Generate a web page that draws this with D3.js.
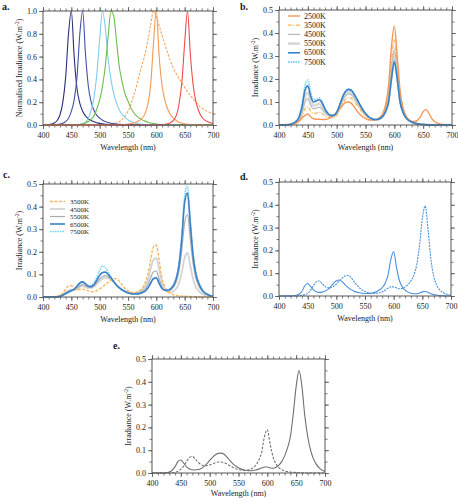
<!DOCTYPE html>
<html><head><meta charset="utf-8">
<script src="https://cdn.jsdelivr.net/npm/d3@7"></script>
<style>
body{margin:0;background:#fff;}
svg text{font-family:"Liberation Serif","Times New Roman",serif;fill:#1a1a1a;}
</style>
</head><body>
<svg id="fig" width="458" height="500"></svg>
<script>
// ---------- data ----------
const wavelengths = [400,405,410,415,420,425,430,435,440,445,
 450,455,460,465,470,475,480,485,490,495,
 500,505,510,515,520,525,530,535,540,545,
 550,555,560,565,570,575,580,585,590,595,
 600,605,610,615,620,625,630,635,640,645,
 650,655,660,665,670,675,680,685,690,695,
 700];

// panel a: normalised single-LED spectra
const aRoyalBlue = [0,0,0.003,0.008,0.018,0.04,0.09,0.2,0.42,0.8,
 1.0,0.6,0.32,0.19,0.12,0.08,0.055,0.04,0.028,0.02,
 0.014,0.01,0.007,0.005,0.003,0.002,0.001,0.001,0,0,
 0,0,0,0,0,0,0,0,0,0, 0,0,0,0,0,0,0,0,0,0, 0,0,0,0,0,0,0,0,0,0, 0];
const aBlue = [0,0,0,0,0.002,0.004,0.008,0.015,0.03,0.06,
 0.12,0.22,0.42,0.8,1.0,0.62,0.34,0.2,0.13,0.085,
 0.06,0.042,0.03,0.022,0.016,0.012,0.008,0.006,0.004,0.003,
 0.002,0.001,0.001,0,0,0,0,0,0,0, 0,0,0,0,0,0,0,0,0,0, 0,0,0,0,0,0,0,0,0,0, 0];
const aCyan = [0,0,0,0,0,0,0,0,0,0,
 0,0,0.002,0.005,0.01,0.025,0.06,0.13,0.24,0.45,
 0.75,1.0,0.85,0.58,0.4,0.27,0.19,0.13,0.09,0.065,
 0.045,0.032,0.022,0.015,0.01,0.007,0.005,0.003,0.002,0.001,
 0.001,0,0,0,0,0,0,0,0,0, 0,0,0,0,0,0,0,0,0,0, 0];
const aGreen = [0,0,0,0,0,0,0,0,0,0,
 0,0,0.002,0.005,0.01,0.018,0.03,0.05,0.08,0.14,
 0.22,0.34,0.52,0.78,1.0,0.95,0.72,0.5,0.37,0.27,
 0.21,0.15,0.11,0.08,0.06,0.045,0.034,0.025,0.018,0.013,
 0.009,0.006,0.004,0.003,0.002,0.001,0,0,0,0, 0,0,0,0,0,0,0,0,0,0, 0];
const aAmberPC = [0,0,0,0,0,0,0,0,0,0, 0,0,0,0,0,0,0,0,0,0,
 0,0,0.002,0.004,0.006,0.01,0.02,0.03,0.05,0.08,
 0.12,0.18,0.26,0.34,0.44,0.53,0.62,0.74,0.88,1.0,
 0.95,0.87,0.79,0.71,0.63,0.56,0.5,0.45,0.41,0.37,
 0.33,0.29,0.26,0.23,0.2,0.17,0.15,0.13,0.12,0.11,
 0.1];
const aAmber = [0,0,0,0,0,0,0,0,0,0, 0,0,0,0,0,0,0,0,0,0,
 0,0,0,0,0,0,0,0,0.003,0.005,
 0.008,0.012,0.018,0.027,0.04,0.06,0.1,0.18,0.35,0.72,
 1.0,0.6,0.35,0.22,0.14,0.09,0.06,0.04,0.025,0.016,
 0.01,0.006,0.004,0.003,0.002,0.001,0.001,0,0,0,
 0];
const aRed = [0,0,0,0,0,0,0,0,0,0, 0,0,0,0,0,0,0,0,0,0,
 0,0,0,0,0,0,0,0,0,0, 0,0,0,0,0,0,0,0,0,0,
 0.001,0.002,0.003,0.005,0.01,0.02,0.04,0.08,0.18,0.37,
 0.72,1.0,0.62,0.35,0.2,0.12,0.07,0.045,0.03,0.02,
 0.013];

// panel b
const b2500 = [0,0,0,0,0.002,0.005,0.01,0.018,0.03,0.042,
 0.048,0.036,0.027,0.025,0.025,0.024,0.024,0.027,0.033,0.042,
 0.055,0.07,0.085,0.097,0.1,0.095,0.08,0.062,0.047,0.036,
 0.028,0.023,0.021,0.022,0.026,0.034,0.05,0.09,0.17,0.34,
 0.43,0.3,0.15,0.075,0.04,0.022,0.016,0.015,0.02,0.035,
 0.058,0.068,0.05,0.028,0.015,0.008,0.004,0.002,0.001,0,
 0];
const b3500 = [0,0,0,0,0.002,0.004,0.008,0.017,0.038,0.07,
 0.08,0.06,0.05,0.052,0.055,0.049,0.039,0.033,0.031,0.033,
 0.042,0.063,0.09,0.11,0.12,0.117,0.103,0.086,0.069,0.052,
 0.039,0.03,0.024,0.021,0.023,0.028,0.042,0.075,0.14,0.28,
 0.37,0.26,0.13,0.07,0.04,0.025,0.016,0.01,0.007,0.004,
 0.003,0.002,0.001,0,0,0,0,0,0,0,
 0];
const b4500 = [0,0,0,0.001,0.002,0.006,0.011,0.024,0.054,0.1,
 0.115,0.085,0.07,0.074,0.078,0.068,0.052,0.041,0.036,0.037,
 0.048,0.074,0.104,0.126,0.135,0.132,0.117,0.098,0.079,0.06,
 0.044,0.033,0.026,0.022,0.023,0.027,0.039,0.065,0.12,0.24,
 0.33,0.235,0.118,0.064,0.037,0.023,0.015,0.01,0.006,0.004,
 0.002,0.001,0,0,0,0,0,0,0,0,
 0];
const b5500 = [0,0,0,0.001,0.003,0.007,0.013,0.029,0.066,0.123,
 0.14,0.103,0.084,0.088,0.093,0.081,0.06,0.045,0.039,0.04,
 0.052,0.08,0.112,0.136,0.145,0.142,0.126,0.106,0.085,0.064,
 0.047,0.035,0.027,0.023,0.023,0.027,0.038,0.062,0.11,0.22,
 0.31,0.22,0.11,0.06,0.035,0.022,0.014,0.009,0.006,0.003,
 0.002,0.001,0,0,0,0,0,0,0,0,
 0];
const b6500 = [0,0,0,0.001,0.003,0.008,0.016,0.035,0.08,0.15,
 0.17,0.125,0.1,0.105,0.11,0.095,0.068,0.05,0.042,0.042,
 0.055,0.085,0.12,0.145,0.155,0.152,0.135,0.113,0.09,0.068,
 0.05,0.037,0.028,0.024,0.024,0.028,0.038,0.06,0.1,0.2,
 0.275,0.2,0.1,0.055,0.032,0.02,0.013,0.008,0.005,0.003,
 0.002,0.001,0,0,0,0,0,0,0,0,
 0];
const b7500 = [0,0,0,0.001,0.003,0.009,0.018,0.04,0.09,0.17,
 0.195,0.14,0.11,0.112,0.117,0.1,0.07,0.05,0.042,0.042,
 0.055,0.085,0.12,0.145,0.155,0.152,0.135,0.113,0.09,0.068,
 0.05,0.037,0.028,0.024,0.024,0.028,0.038,0.06,0.1,0.2,
 0.28,0.2,0.1,0.055,0.032,0.02,0.013,0.008,0.005,0.003,
 0.002,0.001,0,0,0,0,0,0,0,0,
 0];

// panel c
const c3500 = [0,0,0,0,0.001,0.003,0.008,0.018,0.035,0.048,
 0.05,0.038,0.032,0.034,0.035,0.032,0.027,0.024,0.024,0.028,
 0.035,0.045,0.055,0.065,0.075,0.082,0.08,0.068,0.052,0.038,
 0.028,0.022,0.019,0.021,0.027,0.038,0.06,0.1,0.165,0.222,
 0.23,0.16,0.085,0.045,0.025,0.015,0.01,0.007,0.005,0.004,
 0.003,0.003,0.002,0.001,0.001,0,0,0,0,0,
 0];
const c4500 = [0,0,0,0,0.001,0.002,0.005,0.012,0.02,0.028,
 0.033,0.031,0.035,0.044,0.048,0.044,0.04,0.04,0.046,0.058,
 0.07,0.08,0.085,0.083,0.076,0.065,0.052,0.04,0.031,0.025,
 0.02,0.018,0.017,0.019,0.024,0.032,0.048,0.075,0.125,0.165,
 0.172,0.12,0.065,0.035,0.022,0.02,0.025,0.036,0.062,0.11,
 0.175,0.195,0.137,0.078,0.043,0.026,0.015,0.009,0.005,0.003,
 0.001];
const c5500 = [0,0,0,0,0.001,0.002,0.004,0.01,0.018,0.025,
 0.03,0.032,0.04,0.05,0.055,0.05,0.044,0.043,0.05,0.065,
 0.08,0.09,0.095,0.09,0.08,0.066,0.052,0.04,0.031,0.024,
 0.019,0.016,0.015,0.016,0.019,0.025,0.035,0.055,0.085,0.112,
 0.115,0.08,0.045,0.03,0.026,0.03,0.042,0.066,0.115,0.21,
 0.33,0.365,0.255,0.145,0.08,0.048,0.028,0.016,0.009,0.005,
 0.002];
const c6500 = [0,0,0,0,0,0,0.003,0.008,0.015,0.022,
 0.028,0.035,0.048,0.062,0.067,0.058,0.048,0.046,0.055,0.075,
 0.095,0.108,0.11,0.1,0.085,0.068,0.052,0.04,0.031,0.024,
 0.018,0.015,0.013,0.013,0.015,0.019,0.026,0.04,0.062,0.082,
 0.085,0.06,0.038,0.03,0.03,0.036,0.05,0.08,0.14,0.26,
 0.42,0.46,0.32,0.18,0.1,0.06,0.035,0.02,0.012,0.006,
 0.003];
const c7500 = [0,0,0,0,0,0,0.003,0.007,0.013,0.02,
 0.026,0.034,0.047,0.06,0.065,0.058,0.05,0.05,0.062,0.088,
 0.118,0.137,0.13,0.11,0.088,0.068,0.052,0.04,0.031,0.024,
 0.018,0.015,0.013,0.013,0.015,0.019,0.026,0.04,0.06,0.08,
 0.083,0.06,0.038,0.031,0.032,0.038,0.053,0.085,0.15,0.28,
 0.45,0.49,0.34,0.19,0.105,0.063,0.037,0.021,0.012,0.006,
 0.003];

// panel d
const dSolid = [0,0,0,0,0,0.001,0.003,0.008,0.02,0.045,
 0.055,0.042,0.027,0.019,0.016,0.017,0.021,0.028,0.04,0.055,
 0.067,0.07,0.063,0.05,0.038,0.029,0.022,0.017,0.014,0.012,
 0.011,0.011,0.012,0.015,0.019,0.026,0.037,0.055,0.09,0.16,
 0.195,0.125,0.068,0.04,0.026,0.017,0.012,0.01,0.01,0.013,
 0.018,0.02,0.016,0.01,0.006,0.004,0.002,0.001,0,0,
 0];
const dDashed = [0,0,0,0,0,0,0,0.001,0.003,0.006,
 0.012,0.025,0.045,0.062,0.066,0.055,0.042,0.036,0.036,0.042,
 0.052,0.065,0.078,0.088,0.09,0.083,0.066,0.05,0.037,0.027,
 0.02,0.015,0.012,0.011,0.012,0.014,0.018,0.025,0.034,0.04,
 0.04,0.035,0.032,0.034,0.04,0.05,0.066,0.09,0.135,0.22,
 0.34,0.395,0.29,0.16,0.085,0.048,0.028,0.017,0.01,0.006,
 0.003];

// panel e
const eSolid = [0,0,0,0,0,0.001,0.004,0.012,0.028,0.05,
 0.057,0.043,0.027,0.018,0.014,0.013,0.015,0.02,0.028,0.04,
 0.055,0.069,0.08,0.086,0.087,0.082,0.07,0.055,0.041,0.031,
 0.023,0.017,0.013,0.011,0.01,0.011,0.013,0.017,0.022,0.026,
 0.026,0.022,0.021,0.025,0.035,0.05,0.075,0.11,0.16,0.26,
 0.38,0.449,0.38,0.25,0.16,0.1,0.062,0.038,0.022,0.012,
 0.007];
const eDashed = [0,0,0,0,0,0,0,0.001,0.003,0.008,
 0.016,0.03,0.05,0.068,0.073,0.062,0.047,0.037,0.032,0.032,
 0.035,0.04,0.045,0.048,0.048,0.045,0.04,0.032,0.025,0.019,
 0.015,0.012,0.011,0.012,0.016,0.022,0.034,0.055,0.09,0.16,
 0.19,0.125,0.07,0.04,0.024,0.015,0.009,0.006,0.004,0.003,
 0.002,0.002,0.001,0,0,0,0,0,0,0,
 0];

const xTickValues = [400,450,500,550,600,650,700];
const yTicksNorm = [0,0.2,0.4,0.6,0.8,1.0];
const yTicksIrr = [0,0.1,0.2,0.3,0.4,0.5];
const legendB = ["2500K","3500K","4500K","5500K","6500K","7500K"];
const legendC = ["3500K","4500K","5500K","6500K","7500K"];
const panelLetters = ["a.","b.","c.","d.","e."];

// ---------- drawing ----------
const svg = d3.select("#fig");
const FONT = "'Liberation Serif','Times New Roman',serif";

function panel(cfg) {
  const x = d3.scaleLinear().domain([400,700]).range([cfg.l, cfg.r]);
  const y = d3.scaleLinear().domain([0, cfg.yMax]).range([cfg.b, cfg.t]);
  const g = svg.append("g");
  const step = cfg.yTicks[1]-cfg.yTicks[0];
  const yMinor = d3.range(0, cfg.yMax + 1e-9, step/2);
  const xMinor = d3.range(400, 701, 10);

  function styleAxis(sel) {
    sel.select(".domain").remove();
    sel.selectAll("line").attr("stroke","#555").attr("stroke-width",0.8);
    sel.attr("font-family", FONT).attr("font-size", 8);
    sel.selectAll("text").attr("fill","#1a1a1a");
  }
  // bottom
  g.append("g").attr("transform",`translate(0,${cfg.b})`)
    .call(d3.axisBottom(x).tickValues(xMinor).tickSize(2.5).tickFormat("")).call(styleAxis);
  g.append("g").attr("transform",`translate(0,${cfg.b})`)
    .call(d3.axisBottom(x).tickValues(xTickValues).tickSize(4).tickPadding(3).tickFormat(d3.format("d"))).call(styleAxis);
  // top
  g.append("g").attr("transform",`translate(0,${cfg.t})`)
    .call(d3.axisTop(x).tickValues(xMinor).tickSize(2.5).tickFormat("")).call(styleAxis);
  g.append("g").attr("transform",`translate(0,${cfg.t})`)
    .call(d3.axisTop(x).tickValues(xTickValues).tickSize(4).tickFormat("")).call(styleAxis);
  // left
  g.append("g").attr("transform",`translate(${cfg.l},0)`)
    .call(d3.axisLeft(y).tickValues(yMinor).tickSize(2.5).tickFormat("")).call(styleAxis);
  g.append("g").attr("transform",`translate(${cfg.l},0)`)
    .call(d3.axisLeft(y).tickValues(cfg.yTicks).tickSize(4).tickPadding(2).tickFormat(d3.format(".1f"))).call(styleAxis);
  // right
  g.append("g").attr("transform",`translate(${cfg.r},0)`)
    .call(d3.axisRight(y).tickValues(yMinor).tickSize(2.5).tickFormat("")).call(styleAxis);
  g.append("g").attr("transform",`translate(${cfg.r},0)`)
    .call(d3.axisRight(y).tickValues(cfg.yTicks).tickSize(4).tickFormat("")).call(styleAxis);

  const line = d3.line().x((d,i)=>x(wavelengths[i])).y(d=>y(d)).curve(d3.curveMonotoneX);
  cfg.series.forEach(s => {
    g.append("path").attr("d", line(s.values)).attr("fill","none")
      .attr("stroke", s.color).attr("stroke-width", s.width || 1.2)
      .attr("stroke-dasharray", s.dash || null)
      .attr("stroke-linejoin","round");
  });

  // frame
  g.append("rect").attr("x",cfg.l).attr("y",cfg.t).attr("width",cfg.r-cfg.l).attr("height",cfg.b-cfg.t)
    .attr("fill","none").attr("stroke","#555").attr("stroke-width",1);

  // titles
  g.append("text").attr("x",(cfg.l+cfg.r)/2).attr("y",cfg.b+(cfg.xtOff||25)).attr("text-anchor","middle")
    .attr("font-size",8).attr("font-family",FONT).text("Wavelength (nm)");
  const yt = g.append("text")
    .attr("transform",`translate(${cfg.l-21},${(cfg.t+cfg.b)/2}) rotate(-90)`)
    .attr("text-anchor","middle").attr("font-size",8).attr("font-family",FONT);
  yt.append("tspan").text(cfg.yTitle + " (W.m");
  yt.append("tspan").attr("dy",-3).attr("font-size",5.5).text("-2");
  yt.append("tspan").attr("dy",3).text(")");

  g.append("text").attr("x",cfg.lx).attr("y",cfg.ly).attr("font-size",10).attr("font-weight","bold")
    .attr("font-family",FONT).text(cfg.letter);

  if (cfg.legend) {
    const L = cfg.legend;
    L.labels.forEach((lab,i) => {
      const s = cfg.series[L.index[i]];
      const yy = L.y + i*L.dy;
      g.append("line").attr("x1",L.x1).attr("x2",L.x2).attr("y1",yy).attr("y2",yy)
        .attr("stroke",s.color).attr("stroke-width",s.width||1.2).attr("stroke-dasharray",s.dash||null);
      g.append("text").attr("x",L.tx).attr("y",yy+2.5).attr("font-size",L.fs).attr("font-family",FONT).text(lab);
    });
  }
}

panel({l:43,r:213,t:11,b:125,yMax:1.0,yTicks:yTicksNorm,yTitle:"Normalised Irradiance",
  letter:panelLetters[0],lx:2,ly:10,
  series:[
    {values:aAmberPC,color:"#f6a35f",width:1.1,dash:"2.5,1.5"},
    {values:aRoyalBlue,color:"#2d2f7d",width:1.1},
    {values:aBlue,color:"#4351a3",width:1.1},
    {values:aCyan,color:"#80cdf0",width:1.1},
    {values:aGreen,color:"#6bbd4c",width:1.1},
    {values:aAmber,color:"#f5994f",width:1.1},
    {values:aRed,color:"#ef4b4b",width:1.1}
  ]});

panel({l:279,r:452,t:10,b:125,yMax:0.5,yTicks:yTicksIrr,yTitle:"Irradiance",
  letter:panelLetters[1],lx:240,ly:10,
  series:[
    {values:b5500,color:"#d9d9d9",width:2.6},
    {values:b4500,color:"#bdbdbd",width:1.3},
    {values:b3500,color:"#f7b75e",width:1.3,dash:"4,1.5,1,1.5"},
    {values:b2500,color:"#f5965a",width:1.4},
    {values:b7500,color:"#7fd0f5",width:1.8,dash:"1.5,1"},
    {values:b6500,color:"#3a80c6",width:1.6}
  ],
  legend:{labels:legendB,index:[3,2,1,0,5,4],x1:288,x2:300,tx:304,y:16,dy:9.2,fs:8}
});

panel({l:43,r:213,t:184,b:297,yMax:0.5,yTicks:yTicksIrr,yTitle:"Irradiance",
  letter:panelLetters[2],lx:3,ly:178,
  series:[
    {values:c4500,color:"#d3d3d3",width:1.8},
    {values:c5500,color:"#ababab",width:1.2},
    {values:c3500,color:"#f7b75e",width:1.4,dash:"3,1.5"},
    {values:c7500,color:"#72d0f7",width:1.6,dash:"1.5,1"},
    {values:c6500,color:"#3a80c6",width:1.6}
  ],
  legend:{labels:legendC,index:[2,0,1,4,3],x1:50,x2:65,tx:70,y:201.5,dy:7.5,fs:7}
});

panel({l:279,r:451,t:182,b:296,yMax:0.5,yTicks:yTicksIrr,yTitle:"Irradiance",
  letter:panelLetters[3],lx:240,ly:180,
  series:[
    {values:dSolid,color:"#4a8fd8",width:1.1},
    {values:dDashed,color:"#4a8fd8",width:1.1,dash:"2,1"}
  ]});

panel({l:152,r:325,t:359,b:473,yMax:0.5,yTicks:yTicksIrr,yTitle:"Irradiance",xtOff:23,
  letter:panelLetters[4],lx:113,ly:349,
  series:[
    {values:eSolid,color:"#6f6f6f",width:1.1},
    {values:eDashed,color:"#6f6f6f",width:1.1,dash:"2.5,1.5"}
  ]});
</script>
</body></html>
